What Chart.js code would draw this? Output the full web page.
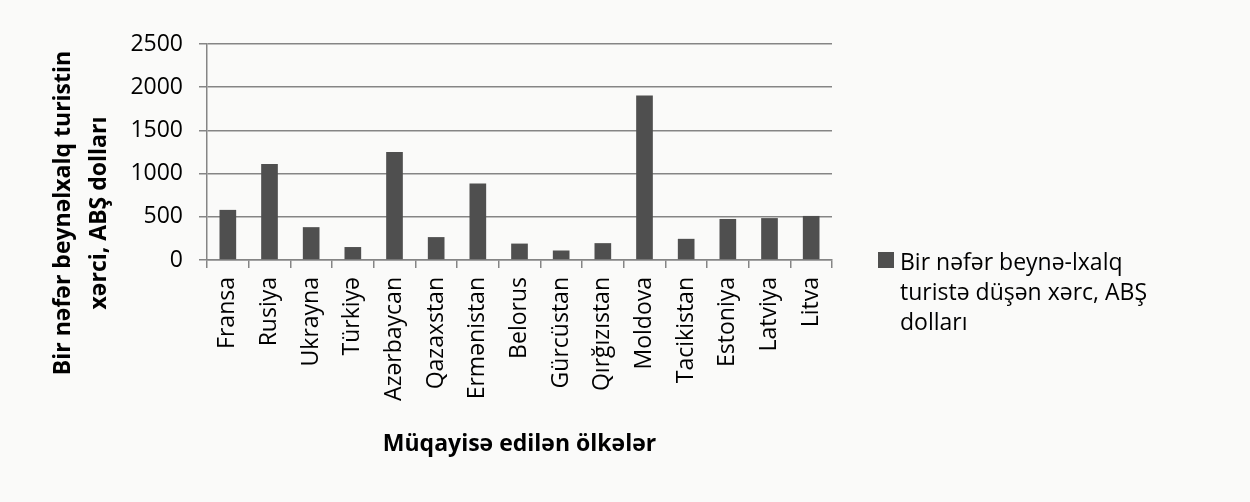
<!DOCTYPE html>
<html lang="az">
<head>
    <meta charset="UTF-8">
    <title>Bir nəfər beynəlxalq turistin xərci</title>
    <script src="https://cdn.jsdelivr.net/npm/chart.js"></script>
    <style>
        body {
            margin: 0;
            background: #fafaf9;
        }

        #wrap {
            position: relative;
            width: 1250px;
            height: 502px;
        }

        #legend {
            position: absolute;
            left: 878px;
            top: 246px;
            display: flex;
            align-items: flex-start;
            font-family: "Open Sans", sans-serif;
            font-weight: 500;
            font-size: 23px;
            line-height: 30px;
            color: #000;
        }

        #legend .box {
            width: 16px;
            height: 16px;
            margin-top: 6px;
            margin-right: 6px;
        }
    </style>
</head>
<body>
    <div id="wrap">
        <canvas id="chart" width="1250" height="502"></canvas>
        <div id="legend"></div>
    </div>

    <script>
        const countries = ["Fransa", "Rusiya", "Ukrayna", "Türkiyə", "Azərbaycan", "Qazaxstan", "Ermənistan",
            "Belorus", "Gürcüstan", "Qırğızıstan", "Moldova", "Tacikistan", "Estoniya", "Latviya", "Litva"];
        const spending = [580, 1110, 380, 150, 1250, 265, 885, 190, 110, 195, 1905, 245, 475, 485, 510];
        const seriesLabel = "Bir nəfər beynə-lxalq turistə düşən xərc, ABŞ dolları";
        const legendLines = ["Bir nəfər beynə-lxalq", "turistə düşən xərc, ABŞ", "dolları"];
        const yTitleLines = ["Bir nəfər beynəlxalq turistin", "xərci, ABŞ dolları"];
        const xTitle = "Müqayisə edilən ölkələr";
        const yMax = 2500;
        const yStep = 500;

        const barColor = "#4f4f4f";
        const gridColor = "#858585";

        // y axis title is drawn by hand: in the picture it sits lower than the plot centre
        const yTitlePlugin = {
            id: "yTitle",
            afterDraw(chart) {
                const ctx = chart.ctx;
                ctx.save();
                ctx.fillStyle = "#000";
                ctx.font = "bold 23px 'Open Sans'";
                ctx.textAlign = "center";
                ctx.textBaseline = "middle";
                ctx.translate(63, 213);
                ctx.rotate(-Math.PI / 2);
                ctx.fillText(yTitleLines[0], 0, 0);
                ctx.fillText(yTitleLines[1], 0, 36);
                ctx.restore();
            }
        };

        new Chart(document.getElementById("chart"), {
            type: "bar",
            data: {
                labels: countries,
                datasets: [{
                    label: seriesLabel,
                    data: spending,
                    backgroundColor: barColor,
                    barPercentage: 0.4,
                    categoryPercentage: 1
                }]
            },
            options: {
                responsive: false,
                animation: false,
                layout: { padding: { top: 44, right: 418, left: 0, bottom: 30 } },
                plugins: {
                    legend: { display: false },
                    tooltip: { enabled: false }
                },
                scales: {
                    x: {
                        grid: { drawOnChartArea: false, tickLength: 8, color: gridColor, lineWidth: 1.5 },
                        border: { color: gridColor, width: 1.5 },
                        ticks: {
                            minRotation: 90,
                            maxRotation: 90,
                            autoSkip: false,
                            padding: 9,
                            color: "#000",
                            font: { family: "Open Sans", size: 23, weight: 500 }
                        },
                        title: {
                            display: true,
                            text: xTitle,
                            color: "#000",
                            font: { family: "Open Sans", size: 23, weight: "bold" },
                            padding: { top: 4, bottom: 14 }
                        },
                        afterFit(s) { s.height = 212; }
                    },
                    y: {
                        min: 0,
                        max: yMax,
                        ticks: {
                            stepSize: yStep,
                            padding: 16,
                            color: "#000",
                            font: { family: "Open Sans", size: 23, weight: 500 },
                            callback: v => String(v)
                        },
                        grid: { color: gridColor, lineWidth: 1.5, tickLength: 8 },
                        border: { color: gridColor, width: 1.5 },
                        afterFit(s) { s.width = 207; }
                    }
                }
            },
            plugins: [yTitlePlugin]
        });

        // legend wraps over three lines like the original
        const legend = document.getElementById("legend");
        legend.innerHTML = '<div class="box" style="background:' + barColor + '"></div><div>' +
            legendLines.join("<br>") + '</div>';
    </script>
</body>
</html>
